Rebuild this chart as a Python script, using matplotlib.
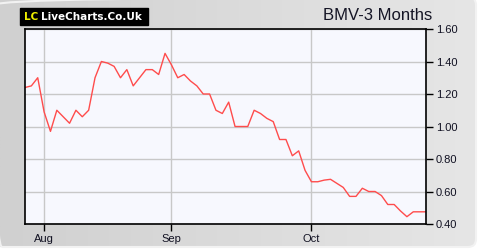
#!/usr/bin/env python3
"""BMV share price, 3 month chart in the LiveCharts style."""

import matplotlib
matplotlib.use("Agg")
import matplotlib.pyplot as plt
import numpy as np
from matplotlib.colors import LinearSegmentedColormap
from matplotlib.patches import FancyBboxPatch

# closing prices, one per trading day
prices = [
    1.24, 1.25, 1.30, 1.09, 0.97, 1.10, 1.06, 1.02, 1.10, 1.06,
    1.10, 1.30, 1.40, 1.39, 1.37, 1.30, 1.35, 1.25, 1.30, 1.35,
    1.35, 1.32, 1.45, 1.38, 1.30, 1.32, 1.28, 1.25, 1.20, 1.20,
    1.10, 1.08, 1.15, 1.00, 1.00, 1.00, 1.10, 1.08, 1.05, 1.03,
    0.92, 0.92, 0.82, 0.85, 0.73, 0.66, 0.66, 0.67, 0.675, 0.65,
    0.625, 0.57, 0.57, 0.62, 0.60, 0.60, 0.575, 0.52, 0.52, 0.48,
    0.445, 0.475, 0.475, 0.475,
]
month_pos = [3, 23, 45]
month_labels = ['Aug', 'Sep', 'Oct']
y_ticks = [0.40, 0.60, 0.80, 1.00, 1.20, 1.40, 1.60]

plt.rcParams['font.family'] = ['Liberation Sans', 'DejaVu Sans']

fig = plt.figure(figsize=(4.8, 2.5), dpi=100)
fig.patch.set_facecolor('white')

# grey gradient backdrop inside a rounded panel
bg = fig.add_axes([0, 0, 1, 1], zorder=-10)
bg.set_xlim(0, 480)
bg.set_ylim(0, 250)
grad = np.linspace(0, 1, 256)[None, :]
img = bg.imshow(grad, aspect='auto', extent=[0, 478, 2, 250],
                cmap=LinearSegmentedColormap.from_list('bg', ['#d0d0d0', '#e6e6e6']))
panel = FancyBboxPatch((-6, 3), 482, 250, boxstyle='round,pad=0,rounding_size=8',
                       facecolor='none', edgecolor='#f2f2f2', linewidth=1.5)
bg.add_patch(panel)
img.set_clip_path(panel)
bg.set_xlim(0, 480)
bg.set_ylim(0, 250)
bg.axis('off')

ax = fig.add_axes([25 / 480, 1 - 224 / 250, 401 / 480, 195 / 250])
ax.set_facecolor('#f7f8fe')
x = np.arange(len(prices))
ax.plot(x, prices, color='#ff4c4c', linewidth=1.0)

ax.set_xlim(0, len(prices) - 1)
ax.set_ylim(0.40, 1.60)
ax.set_yticks(y_ticks)
ax.set_yticklabels([f'{v:.2f}' for v in y_ticks])
ax.set_xticks(month_pos)
ax.set_xticklabels(month_labels)
ax.yaxis.tick_right()
ax.tick_params(axis='both', direction='out', length=5, width=1, color='black',
               labelsize=8, labelcolor='#111122', pad=2)
ax.grid(True, color='#c8c8c8', linewidth=1)
ax.set_axisbelow(True)
for sp in ax.spines.values():
    sp.set_color('black')
    sp.set_linewidth(1.2)

# logo box
fig.patches.append(plt.Rectangle((20 / 480, 1 - 25 / 250), 128 / 480, 17 / 250,
                                 transform=fig.transFigure, color='black', zorder=5))
fig.text(24 / 480, 1 - 16.5 / 250, 'LC', color='#f0f000', fontsize=7.5,
         fontweight='bold', family='DejaVu Sans', va='center', zorder=6)
fig.text(41 / 480, 1 - 16.5 / 250, 'LiveCharts.Co.Uk', color='white', fontsize=7.5,
         fontweight='bold', family='DejaVu Sans', va='center', zorder=6)

fig.text(432 / 480, 1 - 16 / 250, 'BMV-3 Months', color='#151525', fontsize=12,
         ha='right', va='center')

fig.savefig('out.png', dpi=100)
